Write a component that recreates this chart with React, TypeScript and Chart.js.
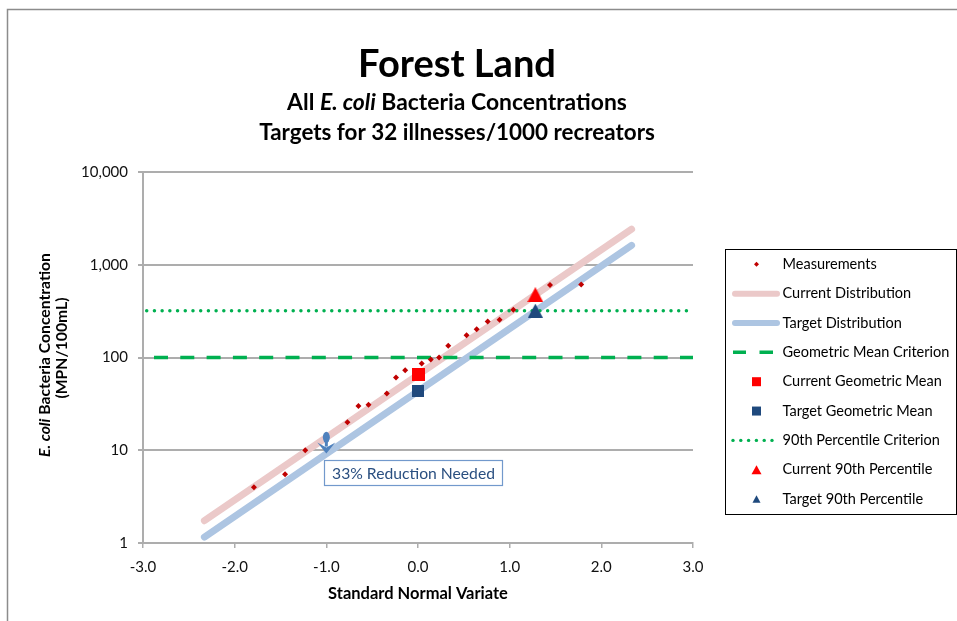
import React, { useEffect, useRef } from 'react';
import { Chart, registerables } from 'chart.js';

Chart.register(...registerables);

// ---------------- data ----------------
const measurementZ = [-1.79, -1.45, -1.23, -0.77, -0.65, -0.54, -0.34, -0.24, -0.14, 0.04, 0.14, 0.23, 0.33, 0.53, 0.64, 0.76, 0.89, 1.04, 1.44, 1.78];
const measurementConc = [4.0, 5.5, 10, 20, 30, 31, 41, 61, 73, 86, 95, 100, 134, 174, 202, 245, 256, 328, 605, 612];

const distZ = [-2.33, 2.33];
const currentDistConc = [1.74, 2420];
const targetDistConc = [1.16, 1620];

const criterionZ = [-3, 3];
const geoMeanCriterionConc = [100, 100];
const pct90CriterionConc = [320, 320];

const geoMeanZ = [0];
const currentGeoMeanConc = [65];
const targetGeoMeanConc = [43.5];

const pct90Z = [1.28];
const currentPct90Conc = [475];
const targetPct90Conc = [320];

const reductionZ = -1.0;
const reductionFromConc = 13.8;
const reductionToConc = 9.2;
const reductionLabel = '33% Reduction Needed';

const xTicks = [-3, -2, -1, 0, 1, 2, 3];
const yTicks = [1, 10, 100, 1000, 10000];

const titleText = 'Forest Land';
const subtitleParts = [
  { t: 'All ', italic: false },
  { t: 'E. coli', italic: true },
  { t: ' Bacteria Concentrations', italic: false },
];
const subtitle2 = 'Targets for 32 illnesses/1000 recreators';
const yTitleParts = [
  { t: 'E. coli', italic: true },
  { t: ' Bacteria Concentration', italic: false },
];
const yTitle2 = '(MPN/100mL)';
const xTitle = 'Standard Normal Variate';

const legendLabels = [
  'Measurements',
  'Current Distribution',
  'Target Distribution',
  'Geometric Mean Criterion',
  'Current Geometric Mean',
  'Target Geometric Mean',
  '90th Percentile Criterion',
  'Current 90th Percentile',
  'Target 90th Percentile',
];

// ---------------- styles ----------------
const FONT = 'Lato, "Open Sans", sans-serif';
const RED_PT = '#c00000';
const PINK = '#ebc9c9';
const LBLUE = '#adc5e2';
const GREEN = '#00b050';
const RED = '#ff0000';
const NAVY = '#1f497d';
const GRID = '#adadad';

function makeTriangle(w: number, h: number, color: string) {
  const c = document.createElement('canvas');
  c.width = w;
  c.height = h;
  const g = c.getContext('2d')!;
  g.fillStyle = color;
  g.beginPath();
  g.moveTo(w / 2, 0);
  g.lineTo(w, h);
  g.lineTo(0, h);
  g.closePath();
  g.fill();
  return c;
}
function makeSquare(s: number, color: string) {
  const c = document.createElement('canvas');
  c.width = s;
  c.height = s;
  const g = c.getContext('2d')!;
  g.fillStyle = color;
  g.fillRect(0, 0, s, s);
  return c;
}

function fitSize(ctx: CanvasRenderingContext2D, text: string, weight: string, style: string, target: number) {
  ctx.font = `${style} ${weight} 100px ${FONT}`;
  const w = ctx.measureText(text).width;
  return (100 * target) / w;
}

function drawParts(
  ctx: CanvasRenderingContext2D,
  parts: { t: string; italic: boolean }[],
  size: number,
  cx: number,
  cy: number,
) {
  let total = 0;
  const widths = parts.map((p) => {
    ctx.font = `${p.italic ? 'italic' : 'normal'} bold ${size}px ${FONT}`;
    const w = ctx.measureText(p.t).width;
    total += w;
    return w;
  });
  let x = cx - total / 2;
  ctx.textAlign = 'left';
  ctx.textBaseline = 'middle';
  parts.forEach((p, i) => {
    ctx.font = `${p.italic ? 'italic' : 'normal'} bold ${size}px ${FONT}`;
    ctx.fillText(p.t, x, cy);
    x += widths[i];
  });
}

const decorPlugin = {
  id: 'decor',
  beforeDraw(chart: any) {
    const ctx: CanvasRenderingContext2D = chart.ctx;
    ctx.save();
    ctx.fillStyle = '#ffffff';
    ctx.fillRect(0, 0, chart.width, chart.height);
    ctx.strokeStyle = '#8c8c8c';
    ctx.lineWidth = 1.5;
    ctx.beginPath();
    ctx.moveTo(7.5, chart.height + 5);
    ctx.lineTo(7.5, 9.5);
    ctx.lineTo(chart.width + 5, 9.5);
    ctx.stroke();
    ctx.restore();
  },
  afterDatasetsDraw(chart: any) {
    const ctx: CanvasRenderingContext2D = chart.ctx;
    const xs = chart.scales.x;
    const ys = chart.scales.y;
    ctx.save();
    // reduction arrow
    const ax = xs.getPixelForValue(reductionZ);
    const y0 = ys.getPixelForValue(reductionFromConc);
    const y1 = ys.getPixelForValue(reductionToConc);
    ctx.fillStyle = '#4f81bd';
    ctx.strokeStyle = '#4f81bd';
    ctx.lineWidth = 3;
    ctx.beginPath();
    ctx.moveTo(ax, y0);
    ctx.lineTo(ax, y1 - 7);
    ctx.stroke();
    ctx.beginPath();
    ctx.ellipse(ax, y0, 3.5, 5.5, 0, 0, Math.PI * 2);
    ctx.fill();
    ctx.beginPath();
    ctx.moveTo(ax, y1);
    ctx.lineTo(ax - 9, y1 - 11);
    ctx.lineTo(ax, y1 - 6);
    ctx.lineTo(ax + 9, y1 - 11);
    ctx.closePath();
    ctx.fill();

    // label box
    const fs = fitSize(ctx, reductionLabel, 'normal', 'normal', 163);
    ctx.font = `normal normal ${fs}px ${FONT}`;
    const tw = ctx.measureText(reductionLabel).width;
    const bx = Math.round(ax - 2) + 0.5;
    const by = Math.round(ys.getPixelForValue(10) + 10) + 0.5;
    const bw = Math.round(tw + 15);
    const bh = 25;
    ctx.fillStyle = '#ffffff';
    ctx.fillRect(bx, by, bw, bh);
    ctx.strokeStyle = '#7299cc';
    ctx.lineWidth = 1.2;
    ctx.strokeRect(bx, by, bw, bh);
    ctx.fillStyle = '#2a4f80';
    ctx.textAlign = 'center';
    ctx.textBaseline = 'middle';
    ctx.fillText(reductionLabel, bx + bw / 2, by + bh / 2 + 0.5);
    ctx.restore();
  },
  afterDraw(chart: any) {
    const ctx: CanvasRenderingContext2D = chart.ctx;
    ctx.save();
    ctx.fillStyle = '#000000';
    // titles
    const cx = 457;
    const s1 = fitSize(ctx, titleText, 'bold', 'normal', 198);
    ctx.font = `normal bold ${s1}px ${FONT}`;
    ctx.textAlign = 'center';
    ctx.textBaseline = 'alphabetic';
    ctx.fillText(titleText, cx, 77);

    let tot = 0;
    subtitleParts.forEach((p) => {
      ctx.font = `${p.italic ? 'italic' : 'normal'} bold 100px ${FONT}`;
      tot += ctx.measureText(p.t).width;
    });
    const s2 = (100 * 340) / tot;
    drawParts(ctx, subtitleParts, s2, cx, 103);

    const s3 = fitSize(ctx, subtitle2, 'bold', 'normal', 396);
    ctx.font = `normal bold ${s3}px ${FONT}`;
    ctx.textAlign = 'center';
    ctx.textBaseline = 'middle';
    ctx.fillText(subtitle2, cx, 133);

    // x title
    const sx = fitSize(ctx, xTitle, 'bold', 'normal', 180);
    ctx.font = `normal bold ${sx}px ${FONT}`;
    ctx.fillText(xTitle, 418, 594);

    // y title
    let ytot = 0;
    yTitleParts.forEach((p) => {
      ctx.font = `${p.italic ? 'italic' : 'normal'} bold 100px ${FONT}`;
      ytot += ctx.measureText(p.t).width;
    });
    const sy = (100 * 204) / ytot;
    ctx.save();
    ctx.translate(45, 355);
    ctx.rotate(-Math.PI / 2);
    drawParts(ctx, yTitleParts, sy, 0, 0);
    ctx.restore();
    ctx.save();
    ctx.translate(62, 348);
    ctx.rotate(-Math.PI / 2);
    ctx.font = `normal bold ${sy}px ${FONT}`;
    ctx.textAlign = 'center';
    ctx.textBaseline = 'middle';
    ctx.fillText(yTitle2, 0, 0);
    ctx.restore();

    // legend
    ctx.strokeStyle = '#000000';
    ctx.lineWidth = 1;
    ctx.strokeRect(725.5, 249.5, 231, 265);
    const ls = fitSize(ctx, 'Geometric Mean Criterion', 'normal', 'normal', 167);
    const mx = 756.5;
    legendLabels.forEach((lab, i) => {
      const y = 264.3 + i * 29.35;
      ctx.save();
      if (i === 0) {
        ctx.fillStyle = RED_PT;
        ctx.beginPath();
        ctx.moveTo(mx, y - 2.5);
        ctx.lineTo(mx + 2.5, y);
        ctx.lineTo(mx, y + 2.5);
        ctx.lineTo(mx - 2.5, y);
        ctx.closePath();
        ctx.fill();
      } else if (i === 1 || i === 2) {
        ctx.strokeStyle = i === 1 ? PINK : LBLUE;
        ctx.lineWidth = 6;
        ctx.lineCap = 'round';
        ctx.beginPath();
        ctx.moveTo(735, y);
        ctx.lineTo(777, y);
        ctx.stroke();
      } else if (i === 3) {
        ctx.strokeStyle = GREEN;
        ctx.lineWidth = 3.5;
        ctx.beginPath();
        ctx.moveTo(733, y);
        ctx.lineTo(746, y);
        ctx.moveTo(759.5, y);
        ctx.lineTo(773, y);
        ctx.stroke();
      } else if (i === 4 || i === 5) {
        ctx.fillStyle = i === 4 ? RED : NAVY;
        ctx.fillRect(mx - 4.5, y - 4.5, 9, 9);
      } else if (i === 6) {
        ctx.fillStyle = GREEN;
        for (let k = 0; k < 6; k++) {
          ctx.beginPath();
          ctx.arc(733 + k * 7.8, y, 1.7, 0, Math.PI * 2);
          ctx.fill();
        }
      } else {
        ctx.fillStyle = i === 7 ? RED : NAVY;
        const w = i === 7 ? 10 : 8;
        const h = i === 7 ? 9 : 7.5;
        ctx.beginPath();
        ctx.moveTo(mx, y - h / 2);
        ctx.lineTo(mx + w / 2, y + h / 2);
        ctx.lineTo(mx - w / 2, y + h / 2);
        ctx.closePath();
        ctx.fill();
      }
      ctx.restore();
      ctx.fillStyle = '#000000';
      ctx.font = `normal normal ${ls}px ${FONT}`;
      ctx.textAlign = 'left';
      ctx.textBaseline = 'middle';
      ctx.fillText(lab, 782.5, y);
    });
    ctx.restore();
  },
};

const pts = (xs: number[], ys: number[]) => xs.map((x, i) => ({ x, y: ys[i] }));

export default function App() {
  const ref = useRef<HTMLCanvasElement | null>(null);
  useEffect(() => {
    if (!ref.current) return;
    const redTri = makeTriangle(16, 15, RED);
    const navyTri = makeTriangle(15, 14, NAVY);
    const redSq = makeSquare(13, RED);
    const navySq = makeSquare(12, NAVY);
    const chart = new Chart(ref.current, {
      type: 'scatter',
      data: {
        datasets: [
          {
            label: 'Target 90th Percentile',
            data: pts(pct90Z, targetPct90Conc),
            pointStyle: navyTri as any,
            pointRadius: 8,
            order: 1,
          },
          {
            label: 'Current 90th Percentile',
            data: pts(pct90Z, currentPct90Conc),
            pointStyle: redTri as any,
            pointRadius: 8,
            order: 0,
          },
          {
            label: 'Current Geometric Mean',
            data: pts(geoMeanZ, currentGeoMeanConc),
            pointStyle: redSq as any,
            pointRadius: 7,
            order: 2,
          },
          {
            label: 'Target Geometric Mean',
            data: pts(geoMeanZ, targetGeoMeanConc),
            pointStyle: navySq as any,
            pointRadius: 7,
            order: 2,
          },
          {
            label: 'Measurements',
            data: pts(measurementZ, measurementConc),
            pointStyle: 'rectRot',
            pointRadius: 3,
            backgroundColor: RED_PT,
            borderColor: RED_PT,
            borderWidth: 0,
            order: 3,
          },
          {
            label: '90th Percentile Criterion',
            data: pts(criterionZ, pct90CriterionConc),
            showLine: true,
            pointRadius: 0,
            borderColor: GREEN,
            borderWidth: 3.5,
            borderDash: [0.01, 7.7],
            borderDashOffset: 4,
            borderCapStyle: 'round',
            order: 4,
          },
          {
            label: 'Geometric Mean Criterion',
            data: pts(criterionZ, geoMeanCriterionConc),
            showLine: true,
            pointRadius: 0,
            borderColor: GREEN,
            borderWidth: 3.5,
            borderDash: [14, 12.3],
            borderDashOffset: 15.3,
            borderCapStyle: 'butt',
            order: 4,
          },
          {
            label: 'Target Distribution',
            data: pts(distZ, targetDistConc),
            showLine: true,
            pointRadius: 0,
            borderColor: LBLUE,
            borderWidth: 7,
            borderCapStyle: 'round',
            order: 5,
          },
          {
            label: 'Current Distribution',
            data: pts(distZ, currentDistConc),
            showLine: true,
            pointRadius: 0,
            borderColor: PINK,
            borderWidth: 7,
            borderCapStyle: 'round',
            order: 6,
          },
        ] as any,
      },
      options: {
        responsive: false,
        animation: false,
        devicePixelRatio: 1,
        events: [],
        layout: { padding: { left: 0, top: 172, right: 264, bottom: 0 } },
        plugins: {
          legend: { display: false },
          title: { display: false },
          tooltip: { enabled: false },
        },
        scales: {
          x: {
            type: 'linear',
            min: -3,
            max: 3,
            afterBuildTicks: (s: any) => {
              s.ticks = xTicks.map((v) => ({ value: v }));
            },
            afterFit: (s: any) => {
              s.height = 78;
            },
            grid: { drawOnChartArea: false, drawTicks: true, tickLength: 5, color: GRID, lineWidth: 1.5 },
            border: { display: true, color: GRID, width: 2 },
            ticks: {
              font: { family: FONT, size: 15 },
              color: '#111111',
              padding: 10,
              maxRotation: 0,
              autoSkip: false,
              callback: (v: any) => Number(v).toFixed(1),
            },
          },
          y: {
            type: 'logarithmic',
            min: 1,
            max: 10000,
            afterBuildTicks: (s: any) => {
              s.ticks = yTicks.map((v) => ({ value: v }));
            },
            afterFit: (s: any) => {
              s.width = 143;
            },
            grid: { color: GRID, lineWidth: 2, tickLength: 5 },
            border: { display: true, color: GRID, width: 2 },
            ticks: {
              font: { family: FONT, size: 15 },
              color: '#111111',
              padding: 10,
              autoSkip: false,
              callback: (v: any) => Number(v).toLocaleString('en-US'),
            },
          },
        },
      } as any,
      plugins: [decorPlugin as any],
    });
    return () => chart.destroy();
  }, []);
  return (
    <div style={{ position: 'absolute', left: 0, top: 0, width: 957, height: 621 }}>
      <canvas ref={ref} width={957} height={621} style={{ display: 'block', width: 957, height: 621 }} />
    </div>
  );
}
